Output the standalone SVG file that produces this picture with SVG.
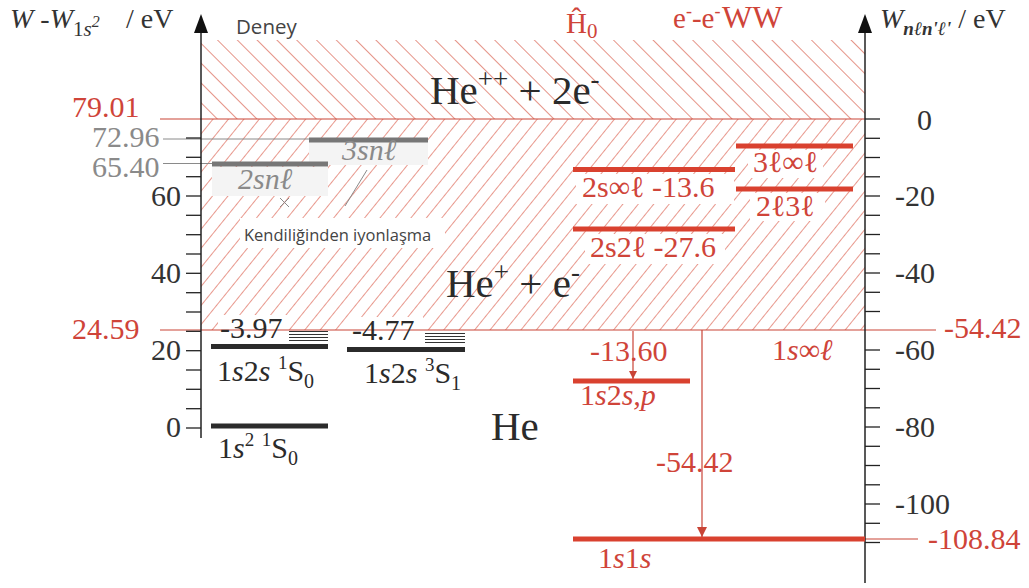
<svg xmlns="http://www.w3.org/2000/svg" width="1029" height="588" viewBox="0 0 1029 588">
<style>
.serif{font-family:"Liberation Serif","Times New Roman",serif}
.sans{font-family:"Open Sans","Noto Sans","DejaVu Sans",sans-serif}
.num{font-family:"Liberation Serif",serif;font-size:30px;fill:#333}
.rnum{font-family:"Liberation Serif",serif;font-size:30px;fill:#cf4439}
.gnum{font-family:"Liberation Serif",serif;font-size:30px;fill:#8a8a8a}
.lbl{font-family:"Liberation Serif",serif;font-size:30px;fill:#2b2b2b}
.rlbl{font-family:"Liberation Serif",serif;font-size:30px;fill:#cf4439}
.glbl{font-family:"Liberation Serif",serif;font-size:30px;fill:#8a8a8a;font-style:italic}
.big{font-family:"Liberation Serif",serif;font-size:41px;fill:#2b2b2b}
.it{font-style:italic}
.tick{stroke:#222;stroke-width:1.3}
.axis{stroke:#222;stroke-width:1.5}
.bar{stroke:#2b2b2b;stroke-width:5}
.gbar{stroke:#777;stroke-width:5}
.rbar{stroke:#d9412f;stroke-width:5}
.rthin{stroke:#c94436;stroke-width:1.2;fill:none}
.gthin{stroke:#8a8a8a;stroke-width:1;fill:none}
.ser{stroke:#333;stroke-width:1}
</style>
<defs>
<pattern id="hatchUp" patternUnits="userSpaceOnUse" width="14" height="14" patternTransform="rotate(45)">
<line x1="0" y1="0.5" x2="14" y2="0.5" stroke="#e59488" stroke-width="1"/>
</pattern>
<pattern id="hatchLow" patternUnits="userSpaceOnUse" width="12" height="12" patternTransform="rotate(-51)">
<line x1="0" y1="0.5" x2="12" y2="0.5" stroke="#e8998e" stroke-width="1"/>
</pattern>
<marker id="arrR" viewBox="0 0 10 10" refX="10" refY="5" markerWidth="8" markerHeight="8" markerUnits="userSpaceOnUse" orient="auto">
<path d="M0,0 L10,5 L0,10 z" fill="#c94436"/>
</marker>
<marker id="arrRL" viewBox="0 0 10 10" refX="10" refY="5" markerWidth="12" markerHeight="10" markerUnits="userSpaceOnUse" orient="auto">
<path d="M0,0 L10,5 L0,10 z" fill="#c94436"/>
</marker>
</defs>
<rect width="1029" height="588" fill="#fff"/>

<g id="continuum">
<rect x="201" y="40" width="664" height="79" fill="url(#hatchUp)"/>
<rect x="201" y="119" width="664" height="211" fill="url(#hatchLow)"/>
</g>

<g id="label-backgrounds">
<rect x="212" y="167" width="116" height="29" fill="#f4f4f4"/>
<rect x="309" y="142" width="119" height="23" fill="#f4f4f4"/>
<rect x="240" y="218" width="205" height="30" fill="#fff"/>
<rect x="218" y="315" width="69" height="28" fill="#fff"/>
<rect x="350" y="317" width="73" height="27" fill="#fff"/>
<rect x="576" y="174" width="158" height="30" fill="#fff"/>
<rect x="585" y="234" width="140" height="30" fill="#fff"/>
<rect x="748" y="150" width="75" height="28" fill="#fff"/>
<rect x="750" y="193" width="75" height="28" fill="#fff"/>
</g>

<g id="reference-lines">
<line x1="160" y1="119" x2="865" y2="119" class="rthin"/>
<line x1="160" y1="330" x2="936" y2="330" class="rthin"/>
<line x1="163" y1="139" x2="309" y2="139" class="gthin"/>
<line x1="163" y1="163.5" x2="212" y2="163.5" class="gthin"/>
<line x1="865" y1="539" x2="918" y2="539" class="rthin"/>
</g>

<g id="left-axis">
<line x1="201" y1="28" x2="201" y2="438" class="axis"/>
<path d="M201,14 L194,33 L208,33 z" fill="#111"/>
<g class="tick">
<line x1="186" y1="428" x2="201" y2="428"/><line x1="186" y1="408.7" x2="201" y2="408.7"/>
<line x1="186" y1="389.3" x2="201" y2="389.3"/><line x1="186" y1="370" x2="201" y2="370"/>
<line x1="186" y1="350.7" x2="201" y2="350.7"/><line x1="186" y1="331.3" x2="201" y2="331.3"/>
<line x1="186" y1="312" x2="201" y2="312"/><line x1="186" y1="292.7" x2="201" y2="292.7"/>
<line x1="186" y1="273.3" x2="201" y2="273.3"/><line x1="186" y1="254" x2="201" y2="254"/>
<line x1="186" y1="234.7" x2="201" y2="234.7"/><line x1="186" y1="215.3" x2="201" y2="215.3"/>
<line x1="186" y1="196" x2="201" y2="196"/><line x1="186" y1="176.7" x2="201" y2="176.7"/>
<line x1="186" y1="157.3" x2="201" y2="157.3"/><line x1="186" y1="138" x2="201" y2="138"/>
</g>
<text class="num" x="181" y="437" text-anchor="end">0</text>
<text class="num" x="181" y="360" text-anchor="end">20</text>
<text class="num" x="181" y="283" text-anchor="end">40</text>
<text class="num" x="181" y="206" text-anchor="end">60</text>
<text class="serif" x="10" y="28" font-size="28" fill="#333"><tspan font-style="italic">W</tspan> -<tspan font-style="italic">W</tspan><tspan font-size="21" dy="8">1</tspan><tspan font-size="21" font-style="italic">s</tspan><tspan font-size="16" dy="-9" font-style="italic">2</tspan><tspan dy="1" x="126">/ eV</tspan></text>
<text class="rnum" x="72" y="117">79.01</text>
<text class="gnum" x="92" y="147">72.96</text>
<text class="gnum" x="92" y="177">65.40</text>
<text class="rnum" x="72" y="339">24.59</text>
</g>

<g id="right-axis">
<line x1="865" y1="28" x2="865" y2="583" class="axis"/>
<path d="M865,14 L858,33 L872,33 z" fill="#111"/>
<g class="tick">
<line x1="865" y1="119" x2="880" y2="119"/><line x1="865" y1="138.3" x2="880" y2="138.3"/>
<line x1="865" y1="157.5" x2="880" y2="157.5"/><line x1="865" y1="176.8" x2="880" y2="176.8"/>
<line x1="865" y1="196" x2="880" y2="196"/><line x1="865" y1="215.3" x2="880" y2="215.3"/>
<line x1="865" y1="234.5" x2="880" y2="234.5"/><line x1="865" y1="253.8" x2="880" y2="253.8"/>
<line x1="865" y1="273" x2="880" y2="273"/><line x1="865" y1="292.3" x2="880" y2="292.3"/>
<line x1="865" y1="311.5" x2="880" y2="311.5"/>
<line x1="865" y1="350" x2="880" y2="350"/><line x1="865" y1="369.3" x2="880" y2="369.3"/>
<line x1="865" y1="388.5" x2="880" y2="388.5"/><line x1="865" y1="407.8" x2="880" y2="407.8"/>
<line x1="865" y1="427" x2="880" y2="427"/><line x1="865" y1="446.3" x2="880" y2="446.3"/>
<line x1="865" y1="465.5" x2="880" y2="465.5"/><line x1="865" y1="484.8" x2="880" y2="484.8"/>
<line x1="865" y1="504" x2="880" y2="504"/><line x1="865" y1="523.3" x2="880" y2="523.3"/>
<line x1="865" y1="542.5" x2="880" y2="542.5"/>
</g>
<text class="num" x="917" y="130">0</text>
<text class="num" x="895" y="206">-20</text>
<text class="num" x="895" y="283">-40</text>
<text class="num" x="895" y="360">-60</text>
<text class="num" x="895" y="437">-80</text>
<text class="num" x="895" y="514">-100</text>
<text class="serif" x="880" y="28" font-size="28" fill="#333"><tspan font-style="italic">W</tspan><tspan font-size="19" dy="7" font-style="italic" font-weight="bold">nℓn'ℓ'</tspan><tspan dy="-7"> / eV</tspan></text>
<text class="rnum" x="944" y="338">-54.42</text>
<text class="rnum" x="928" y="549">-108.84</text>
</g>

<g id="headers">
<text class="sans" x="236" y="34" font-size="20.5" fill="#444">Deney</text>
<text class="serif" x="566" y="33" font-size="29" fill="#cf4439">Ĥ<tspan font-size="21" dy="5">0</tspan></text>
<text class="serif" x="673" y="28" font-size="29" fill="#cf4439">e<tspan font-size="18" dy="-11">-</tspan><tspan dy="11">-e</tspan><tspan font-size="18" dy="-11">-</tspan><tspan dy="11" x="722" font-size="32">WW</tspan></text>
</g>

<g id="regions">
<text class="big" x="430" y="104">He<tspan font-size="27" dy="-16">++</tspan><tspan dy="16"> + 2e</tspan><tspan font-size="27" dy="-16">-</tspan></text>
<text class="big" x="446" y="297">He<tspan font-size="27" dy="-16">+</tspan><tspan dy="16"> + e</tspan><tspan font-size="27" dy="-16">-</tspan></text>
<text class="big" x="491" y="440">He</text>
<text class="sans" x="244" y="241" font-size="16.5" fill="#444">Kendiliğinden iyonlaşma</text>
</g>

<g id="level-2snl">
<line x1="212" y1="164" x2="328" y2="164" class="gbar"/>
<text class="glbl" x="238" y="189">2snℓ</text>
</g>
<g id="level-3snl">
<line x1="309" y1="140" x2="428" y2="140" class="gbar"/>
<text class="glbl" x="342" y="160">3snℓ</text>
</g>
<g id="level-1s2s-1S0">
<line x1="211" y1="346.5" x2="328" y2="346.5" class="bar"/>
<g class="ser"><line x1="289" y1="331.5" x2="328" y2="331.5"/><line x1="289" y1="334.5" x2="328" y2="334.5"/><line x1="289" y1="337.5" x2="328" y2="337.5"/><line x1="289" y1="340.5" x2="328" y2="340.5"/></g>
<text class="lbl" x="220" y="338">-3.97</text>
<text class="lbl" x="217" y="381">1<tspan class="it">s</tspan>2<tspan class="it">s</tspan> <tspan font-size="19" dy="-12">1</tspan><tspan dy="12">S</tspan><tspan font-size="20" dy="7">0</tspan></text>
</g>
<g id="level-1s2s-3S1">
<line x1="347" y1="349.5" x2="465" y2="349.5" class="bar"/>
<g class="ser"><line x1="425" y1="333.5" x2="465" y2="333.5"/><line x1="425" y1="336.5" x2="465" y2="336.5"/><line x1="425" y1="339.5" x2="465" y2="339.5"/><line x1="425" y1="342.5" x2="465" y2="342.5"/></g>
<text class="lbl" x="352" y="340">-4.77</text>
<text class="lbl" x="364" y="383">1<tspan class="it">s</tspan>2<tspan class="it">s</tspan> <tspan font-size="19" dy="-12">3</tspan><tspan dy="12">S</tspan><tspan font-size="20" dy="7">1</tspan></text>
</g>
<g id="level-1s2-1S0">
<line x1="211" y1="426" x2="328" y2="426" class="bar"/>
<text class="lbl" x="218" y="458">1<tspan class="it">s</tspan><tspan font-size="19" dy="-12">2</tspan><tspan dy="12"> </tspan><tspan font-size="19" dy="-12">1</tspan><tspan dy="12">S</tspan><tspan font-size="20" dy="7">0</tspan></text>
</g>

<g id="level-2sinfl">
<line x1="573" y1="169.5" x2="735" y2="169.5" class="rbar"/>
<text class="rlbl" x="582" y="197">2s∞ℓ -13.6</text>
</g>
<g id="level-2s2l">
<line x1="573" y1="229" x2="735" y2="229" class="rbar"/>
<text class="rlbl" x="590" y="257">2s2ℓ -27.6</text>
</g>
<g id="level-3linfl">
<line x1="736" y1="146" x2="853" y2="146" class="rbar"/>
<text class="rlbl" x="753" y="172">3ℓ∞ℓ</text>
</g>
<g id="level-2l3l">
<line x1="736" y1="189" x2="853" y2="189" class="rbar"/>
<text class="rlbl" x="756" y="216">2ℓ3ℓ</text>
</g>
<g id="level-1sinfl">
<text class="rlbl" x="772" y="360">1<tspan class="it">s</tspan>∞<tspan class="it">ℓ</tspan></text>
</g>
<g id="level-1s2sp">
<line x1="573" y1="381" x2="690" y2="381" class="rbar"/>
<text class="rlbl" x="580" y="405">1<tspan class="it">s</tspan>2<tspan class="it">s,p</tspan></text>
</g>
<g id="level-1s1s">
<line x1="573" y1="539" x2="865" y2="539" class="rbar"/>
<text class="rlbl" x="598" y="568">1<tspan class="it">s</tspan>1<tspan class="it">s</tspan></text>
</g>

<g id="connectors">
<line x1="280" y1="198" x2="289" y2="207" class="gthin"/>
<line x1="289" y1="198" x2="280" y2="207" class="gthin"/>
<line x1="367" y1="170" x2="345" y2="206" class="gthin"/>
<line x1="633" y1="331" x2="633" y2="379" class="rthin" marker-end="url(#arrR)"/>
<line x1="702" y1="330" x2="702" y2="537" class="rthin" marker-end="url(#arrRL)"/>
</g>
<g id="arrow-labels">
<text class="rlbl" x="590" y="361">-13.60</text>
<text class="rlbl" x="656" y="472">-54.42</text>
</g>
</svg>
